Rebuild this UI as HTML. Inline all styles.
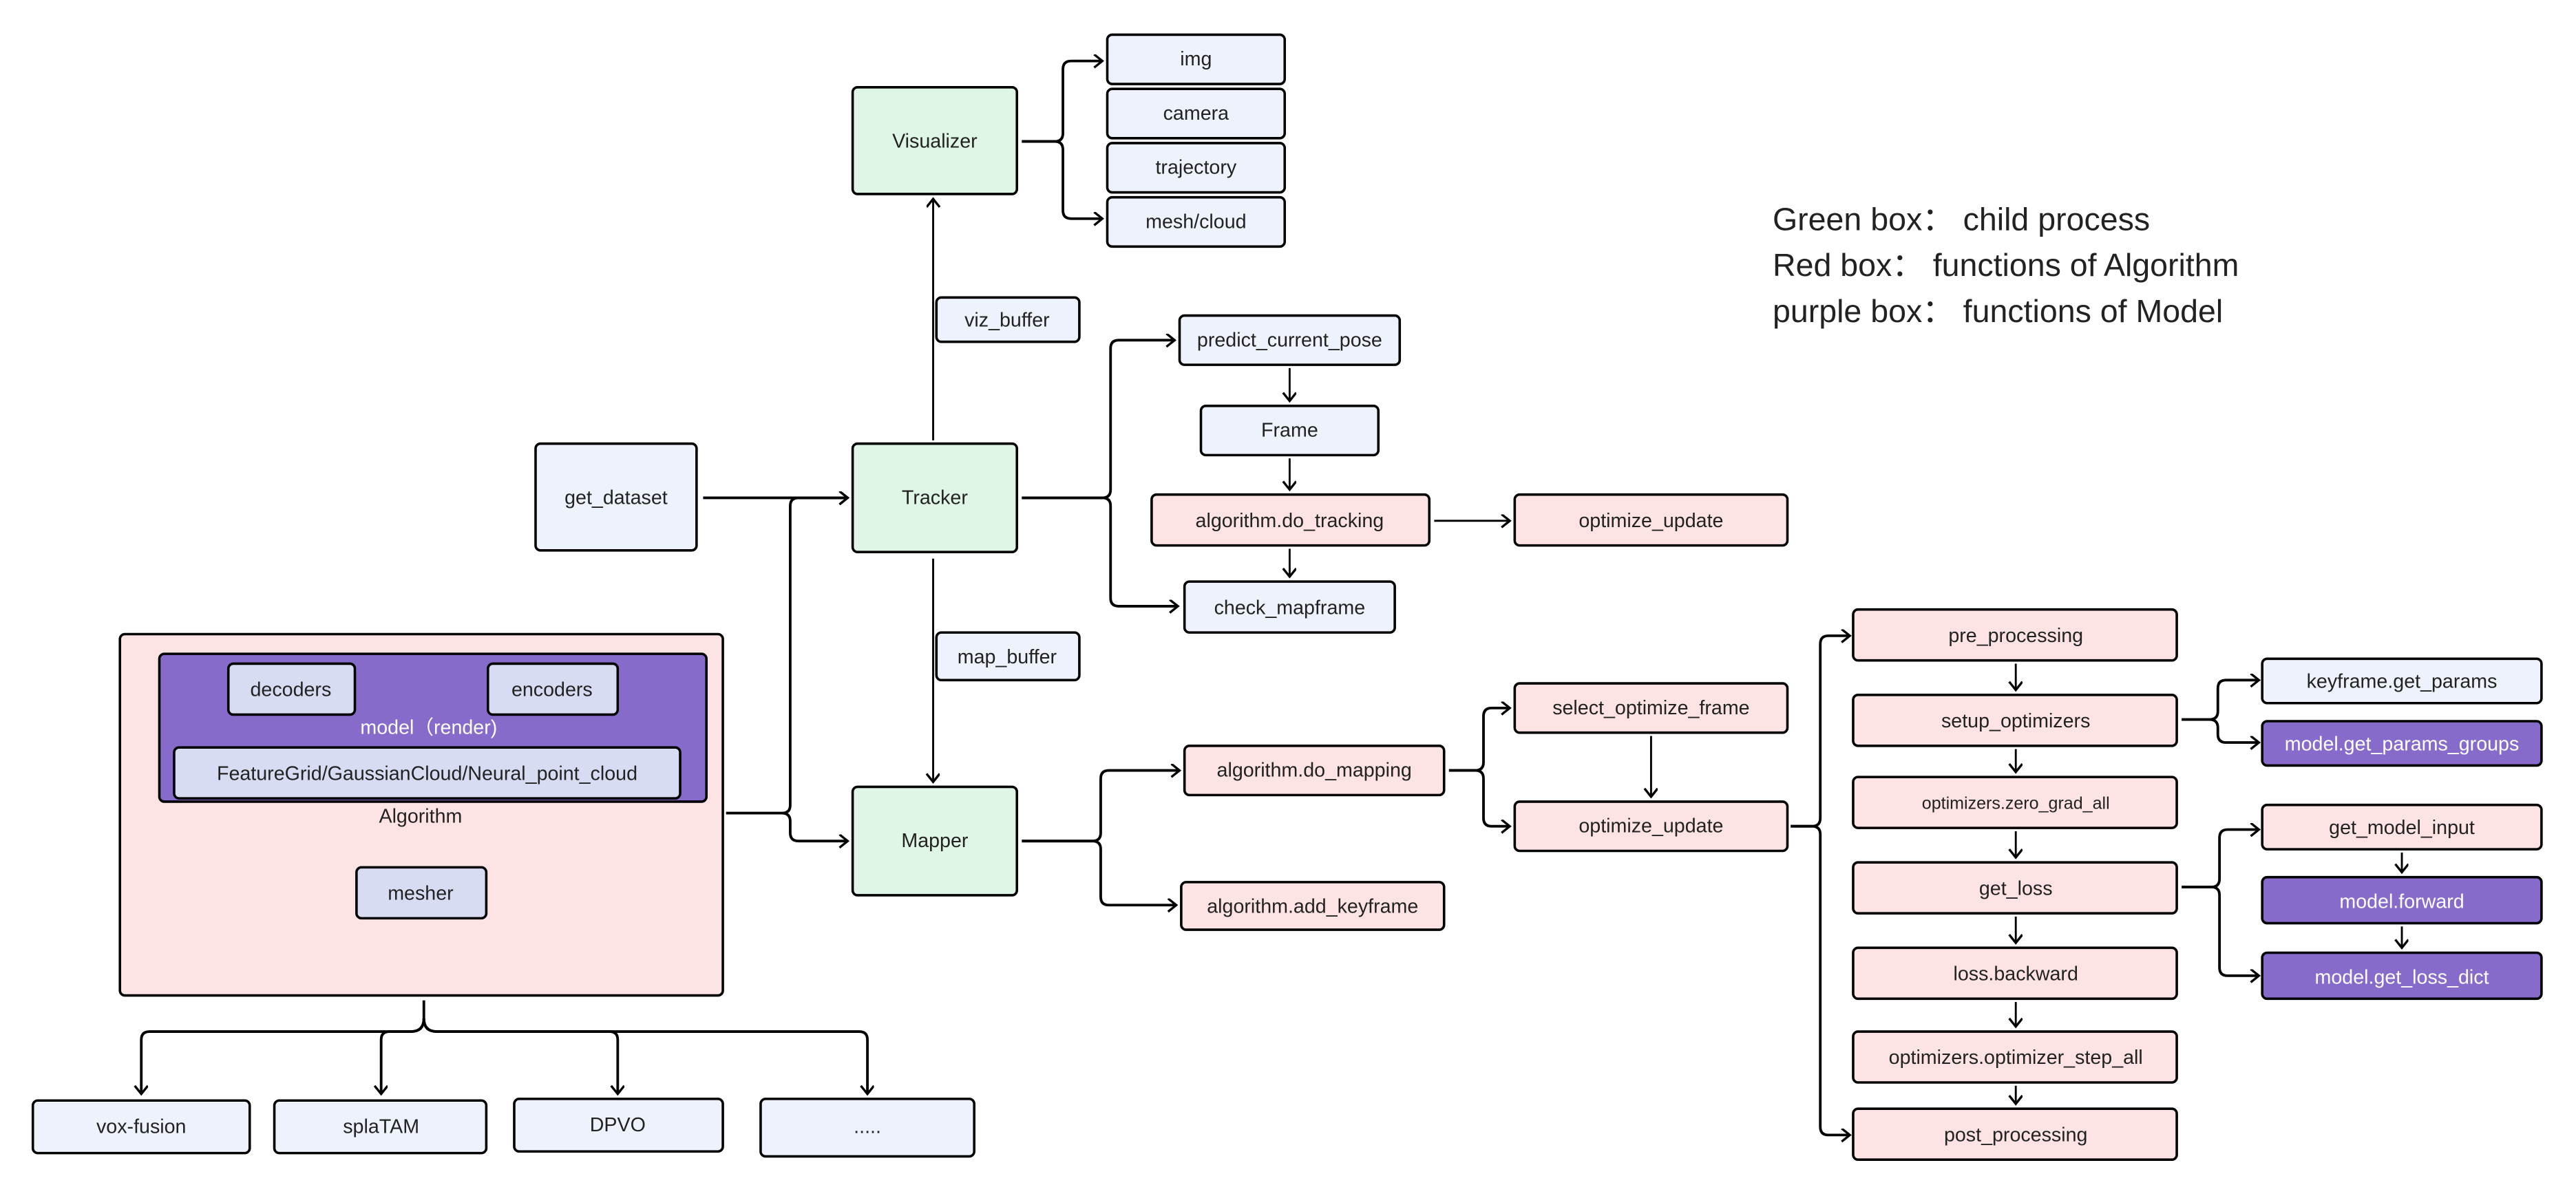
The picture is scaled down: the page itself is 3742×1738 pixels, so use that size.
<!DOCTYPE html>
<html><head><meta charset="utf-8"><style>
html,body{margin:0;padding:0;background:#fff}
svg{display:block}
text{font-family:"Liberation Sans","Noto Sans CJK SC",sans-serif;fill:#222}
</style></head><body>
<svg width="3742" height="1738" viewBox="0 0 1568 728" xmlns="http://www.w3.org/2000/svg">
<defs>
<marker id="a" markerWidth="10" markerHeight="10" refX="6" refY="4" orient="auto" markerUnits="userSpaceOnUse">
<path d="M1,0 L6,4 L1,8" fill="none" stroke="#000" stroke-width="1.4"/>
</marker>
</defs>
<g fill="none" stroke="#000" stroke-width="1.6" marker-end="url(#a)">
<path d="M622 86 H642 Q647 86 647 81 V42 Q647 37 652 37 H671"/>
<path d="M622 86 H642 Q647 86 647 91 V128 Q647 133 652 133 H671"/>
<path d="M622 303 H671 Q676 303 676 298 V212 Q676 207 681 207 H715"/>
<path d="M622 303 H671 Q676 303 676 308 V364 Q676 369 681 369 H717"/>
<path d="M442 495 H476 Q481 495 481 490 V308 Q481 303 486 303 H516"/>
<path d="M442 495 H476 Q481 495 481 500 V507 Q481 512 486 512 H516"/>
<path d="M428 303 H516"/>
<path d="M622 512 H665 Q670 512 670 507 V474 Q670 469 675 469 H718"/>
<path d="M622 512 H665 Q670 512 670 517 V546 Q670 551 675 551 H716"/>
<path d="M882 469 H898 Q903 469 903 464 V436 Q903 431 908 431 H919"/>
<path d="M882 469 H898 Q903 469 903 474 V498 Q903 503 908 503 H919"/>
<path d="M1090 503 H1103 Q1108 503 1108 498 V392 Q1108 387 1113 387 H1126"/>
<path d="M1090 503 H1103 Q1108 503 1108 508 V686 Q1108 691 1113 691 H1126"/>
<path d="M1328 438 H1345 Q1350 438 1350 433 V419 Q1350 414 1355 414 H1375"/>
<path d="M1328 438 H1345 Q1350 438 1350 443 V447 Q1350 452 1355 452 H1375"/>
<path d="M1328 540 H1346 Q1351 540 1351 535 V510 Q1351 505 1356 505 H1375"/>
<path d="M1328 540 H1346 Q1351 540 1351 545 V589 Q1351 594 1356 594 H1375"/>
<path d="M258 609 V620 Q258 628 250 628 H91 Q86 628 86 633 V666"/>
<path d="M258 620 Q258 628 250 628 H237 Q232 628 232 633 V666"/>
<path d="M258 620 Q258 628 266 628 H371 Q376 628 376 633 V666"/>
<path d="M258 620 Q258 628 266 628 H523 Q528 628 528 633 V666"/>
</g>
<g fill="none" stroke="#000" stroke-width="1.2" marker-end="url(#a)">
<path d="M568 268 V121"/><path d="M568 340 V476"/>
<path d="M873 317 H919"/>
<path d="M785 224 V244"/><path d="M785 279 V298"/><path d="M785 334 V351"/>
<path d="M1005 448 V485"/>
<path d="M1227 404 V420"/><path d="M1227 456 V470"/><path d="M1227 506 V522"/><path d="M1227 558 V574"/><path d="M1227 610 V625"/><path d="M1227 661 V672"/>
<path d="M1462 519 V531"/><path d="M1462 564 V577"/>
</g>
<g stroke="#000" stroke-width="1.5">
<rect x="73" y="386" width="367" height="220" rx="3" fill="#fde3e3"/>
<rect x="97" y="398" width="333" height="90" rx="3" fill="#876bcb"/>
<rect x="139" y="404" width="77" height="31" rx="3" fill="#d8dcf3"/>
<rect x="297" y="404" width="79" height="31" rx="3" fill="#d8dcf3"/>
<rect x="106" y="455" width="308" height="31" rx="3" fill="#d8dcf3"/>
<rect x="217" y="528" width="79" height="31" rx="3" fill="#d8dcf3"/>
<g fill="#dff5e6"><rect x="519" y="53" width="100" height="65" rx="3"/><rect x="519" y="270" width="100" height="66" rx="3"/><rect x="519" y="479" width="100" height="66" rx="3"/></g>
<g fill="#eef2fc">
<rect x="674" y="21" width="108" height="30" rx="3"/><rect x="674" y="54" width="108" height="30" rx="3"/><rect x="674" y="87" width="108" height="30" rx="3"/><rect x="674" y="120" width="108" height="30" rx="3"/>
<rect x="570" y="181" width="87" height="27" rx="3"/><rect x="570" y="385" width="87" height="29" rx="3"/>
<rect x="326" y="270" width="98" height="65" rx="3"/>
<rect x="718" y="192" width="134" height="30" rx="3"/><rect x="731" y="247" width="108" height="30" rx="3"/><rect x="721" y="354" width="128" height="31" rx="3"/>
<rect x="1377" y="401" width="170" height="27" rx="3"/>
<rect x="20" y="670" width="132" height="32" rx="3"/><rect x="167" y="670" width="129" height="32" rx="3"/><rect x="313" y="669" width="127" height="32" rx="3"/><rect x="463" y="669" width="130" height="35" rx="3"/>
</g>
<g fill="#fde3e3">
<rect x="701" y="301" width="169" height="31" rx="3"/><rect x="922" y="301" width="166" height="31" rx="3"/>
<rect x="721" y="454" width="158" height="30" rx="3"/><rect x="719" y="537" width="160" height="29" rx="3"/>
<rect x="922" y="416" width="166" height="30" rx="3"/><rect x="922" y="488" width="166" height="30" rx="3"/>
<rect x="1128" y="371" width="197" height="31" rx="3"/><rect x="1128" y="423" width="197" height="31" rx="3"/><rect x="1128" y="473" width="197" height="31" rx="3"/><rect x="1128" y="525" width="197" height="31" rx="3"/><rect x="1128" y="577" width="197" height="31" rx="3"/><rect x="1128" y="628" width="197" height="31" rx="3"/><rect x="1128" y="675" width="197" height="31" rx="3"/>
<rect x="1377" y="490" width="170" height="27" rx="3"/>
</g>
<g fill="#876bcb"><rect x="1377" y="439" width="170" height="27" rx="3"/><rect x="1377" y="534" width="170" height="28" rx="3"/><rect x="1377" y="580" width="170" height="28" rx="3"/></g>
</g>
<g font-size="12" text-anchor="middle" dominant-baseline="central">
<text x="569" y="86">Visualizer</text><text x="569" y="303">Tracker</text><text x="569" y="512">Mapper</text>
<text x="728" y="36">img</text><text x="728" y="69">camera</text><text x="728" y="102">trajectory</text><text x="728" y="135">mesh/cloud</text>
<text x="613" y="195">viz_buffer</text><text x="613" y="400">map_buffer</text>
<text x="375" y="303">get_dataset</text>
<text x="785" y="207">predict_current_pose</text><text x="785" y="262">Frame</text><text x="785" y="317">algorithm.do_tracking</text><text x="785" y="370">check_mapframe</text>
<text x="1005" y="317">optimize_update</text>
<text x="800" y="469">algorithm.do_mapping</text><text x="799" y="552">algorithm.add_keyframe</text>
<text x="1005" y="431">select_optimize_frame</text><text x="1005" y="503">optimize_update</text>
<text x="1227" y="387">pre_processing</text><text x="1227" y="439">setup_optimizers</text><text x="1227" y="489" font-size="10.5">optimizers.zero_grad_all</text><text x="1227" y="541">get_loss</text><text x="1227" y="593">loss.backward</text><text x="1227" y="644">optimizers.optimizer_step_all</text><text x="1227" y="691">post_processing</text>
<text x="1462" y="415">keyframe.get_params</text><text x="1462" y="453" style="fill:#fff">model.get_params_groups</text><text x="1462" y="504">get_model_input</text><text x="1462" y="549" style="fill:#fff">model.forward</text><text x="1462" y="595" style="fill:#fff">model.get_loss_dict</text>
<text x="177" y="420">decoders</text><text x="336" y="420">encoders</text>
<text x="261" y="443" style="fill:#fff">model（render)</text>
<text x="260" y="471">FeatureGrid/GaussianCloud/Neural_point_cloud</text>
<text x="256" y="497">Algorithm</text>
<text x="256" y="544">mesher</text>
<text x="86" y="686">vox-fusion</text><text x="232" y="686">splaTAM</text><text x="376" y="685">DPVO</text><text x="528" y="686">.....</text>
</g>
<g font-size="19.5">
<text x="1079" y="140">Green box：  child process</text>
<text x="1079" y="168">Red box：  functions of Algorithm</text>
<text x="1079" y="196">purple box：   functions of  Model</text>
</g>
</svg>
</body></html>
